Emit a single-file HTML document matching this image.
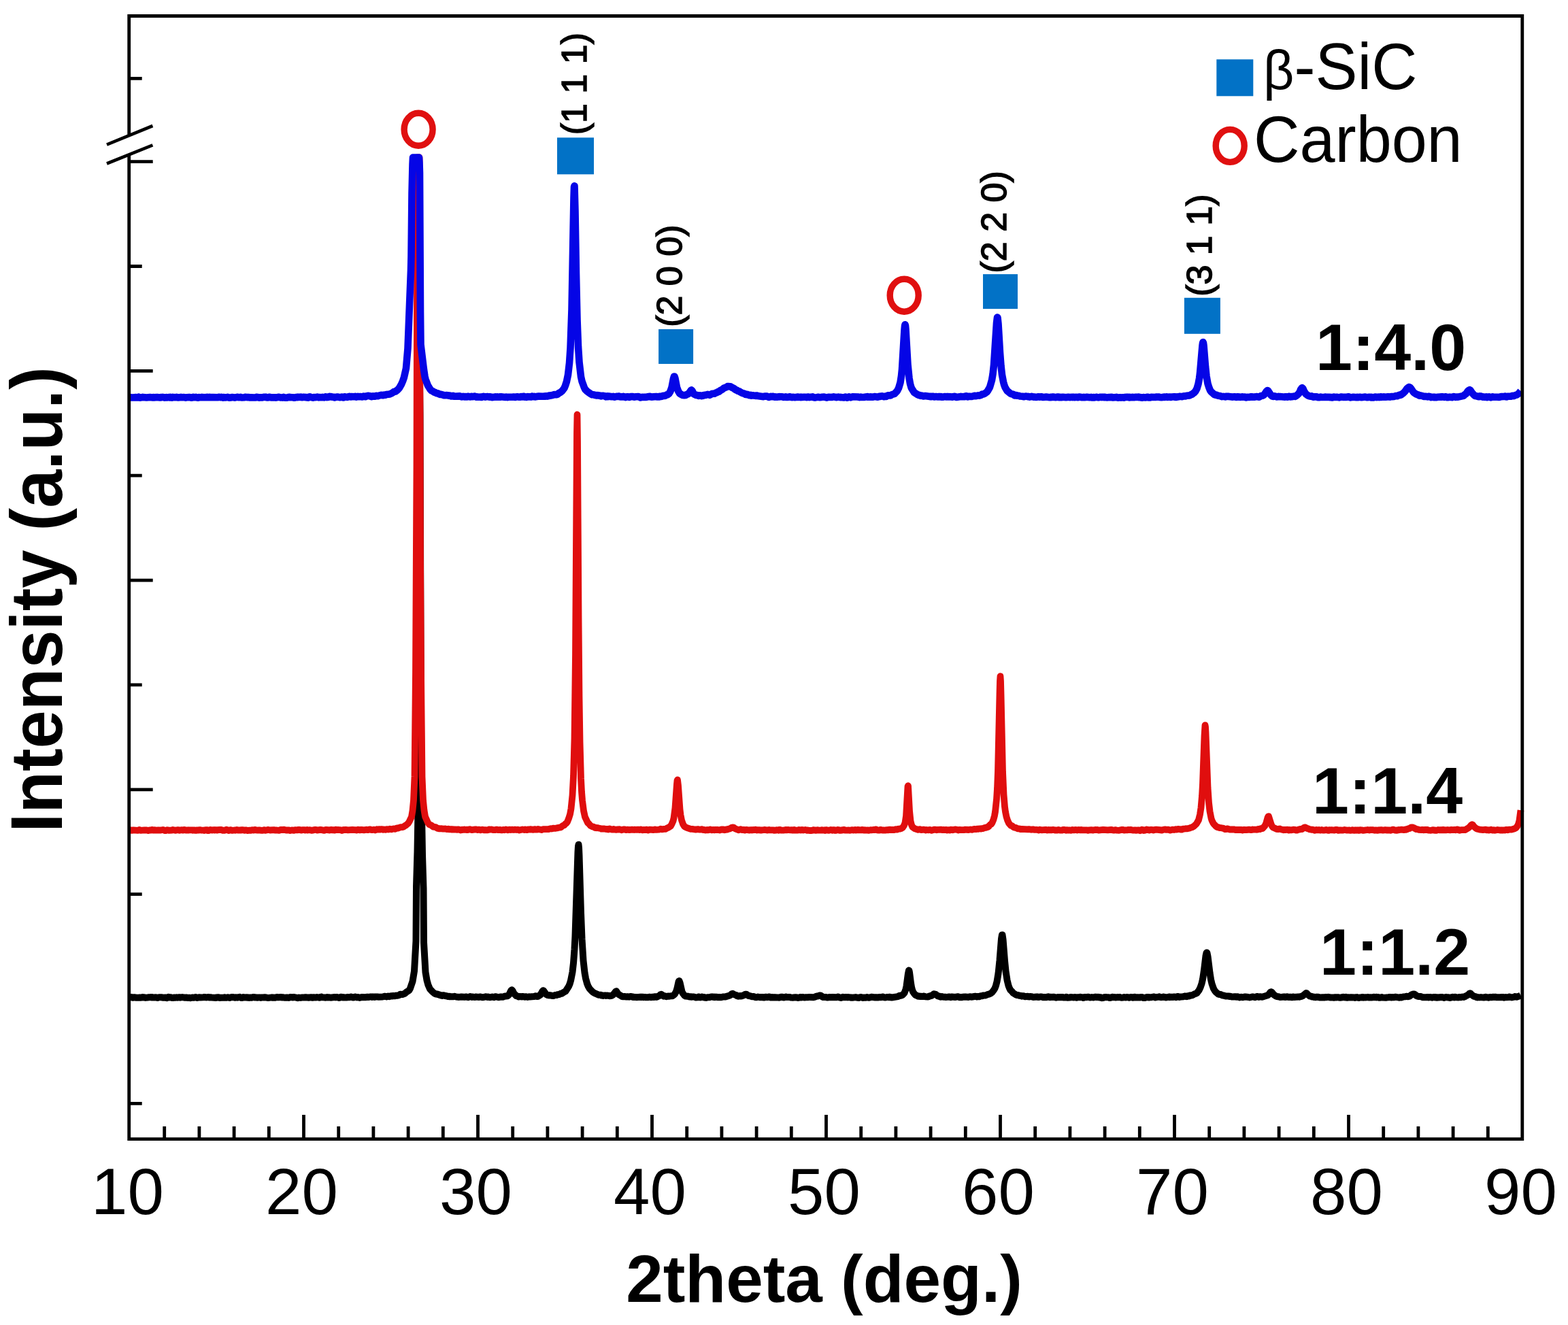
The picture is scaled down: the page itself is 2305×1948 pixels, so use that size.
<!DOCTYPE html><html><head><meta charset="utf-8"><title>XRD</title><style>html,body{margin:0;padding:0;background:#fff;overflow:hidden}svg{display:block}</style></head><body><svg width="2305" height="1948" viewBox="0 0 2305 1948"><rect x="0" y="0" width="2305" height="1948" fill="#fff"/><g fill="none" stroke-linejoin="round" stroke-linecap="butt"><path d="M190.5,1466.5 L193.5,1466.0 L195.0,1466.7 L196.0,1466.8 L197.0,1466.2 L200.5,1466.8 L204.0,1466.8 L205.0,1466.4 L207.0,1466.7 L209.5,1466.0 L210.0,1466.4 L211.0,1466.2 L214.0,1466.9 L217.5,1466.5 L218.0,1466.2 L221.0,1466.3 L221.5,1466.0 L223.0,1466.4 L223.5,1466.1 L224.5,1466.4 L227.0,1466.4 L227.5,1466.6 L229.0,1466.3 L231.5,1467.0 L234.0,1466.2 L237.0,1466.2 L240.0,1466.7 L243.5,1466.5 L245.0,1467.2 L247.5,1465.9 L248.5,1466.5 L251.0,1466.2 L251.5,1466.6 L253.5,1467.0 L254.5,1467.1 L256.0,1466.5 L258.5,1466.7 L259.5,1466.3 L260.5,1466.7 L262.0,1466.6 L263.0,1466.2 L265.0,1466.7 L268.0,1466.1 L272.0,1466.8 L274.5,1466.4 L275.0,1466.8 L276.5,1467.1 L278.5,1466.7 L280.0,1467.2 L282.5,1466.5 L285.0,1466.8 L287.5,1466.1 L290.0,1466.9 L292.5,1466.2 L295.0,1466.6 L299.0,1466.3 L300.5,1465.9 L303.0,1466.5 L304.0,1466.2 L307.0,1466.1 L308.0,1466.5 L310.0,1466.3 L311.0,1466.6 L317.5,1466.9 L318.0,1466.5 L318.5,1466.7 L321.0,1466.3 L323.0,1467.0 L325.0,1466.7 L330.0,1466.8 L330.5,1466.3 L333.0,1466.8 L335.0,1466.2 L337.5,1466.9 L340.5,1465.9 L341.0,1466.2 L342.0,1465.9 L343.5,1466.1 L345.0,1466.8 L347.0,1466.3 L349.0,1466.7 L352.5,1465.8 L354.5,1466.9 L356.0,1467.0 L356.5,1466.6 L357.5,1466.6 L358.0,1466.1 L361.0,1466.5 L362.0,1466.3 L363.0,1466.7 L363.5,1466.5 L364.5,1466.7 L365.0,1466.5 L366.5,1466.9 L369.0,1466.4 L370.0,1466.7 L372.0,1466.1 L373.5,1466.1 L374.5,1466.4 L375.5,1466.2 L376.5,1466.5 L377.5,1466.4 L378.0,1466.8 L381.0,1466.4 L383.5,1466.9 L384.0,1466.5 L385.5,1466.4 L386.5,1466.6 L389.5,1466.3 L391.5,1466.4 L392.5,1466.9 L394.0,1467.1 L399.5,1466.4 L400.0,1466.7 L401.0,1466.5 L404.5,1466.8 L407.0,1466.0 L409.0,1466.4 L412.5,1466.0 L415.0,1466.5 L416.5,1466.3 L419.0,1466.8 L422.0,1466.5 L424.5,1466.9 L426.5,1466.0 L429.5,1466.2 L430.0,1466.5 L432.5,1466.0 L437.5,1467.2 L439.5,1466.6 L442.0,1466.9 L444.5,1466.4 L448.0,1466.6 L448.5,1466.3 L449.5,1466.2 L454.0,1466.7 L455.0,1466.4 L457.0,1466.2 L459.5,1466.8 L460.5,1466.3 L464.0,1466.6 L466.0,1466.1 L470.0,1466.7 L471.0,1466.0 L472.5,1465.6 L473.5,1466.3 L477.5,1466.4 L478.5,1466.7 L481.0,1466.1 L482.0,1466.5 L484.0,1466.3 L486.0,1466.7 L492.0,1466.1 L493.5,1466.4 L495.5,1466.0 L498.5,1467.0 L500.0,1466.6 L501.0,1465.8 L503.0,1466.0 L503.5,1466.4 L506.0,1466.3 L507.0,1466.6 L510.0,1466.4 L510.5,1466.1 L513.5,1466.3 L516.0,1465.6 L519.5,1466.6 L522.0,1465.5 L524.5,1466.4 L526.0,1466.0 L528.5,1466.9 L532.5,1465.9 L537.0,1466.2 L540.0,1465.7 L541.5,1466.1 L544.0,1465.5 L546.5,1465.5 L547.0,1465.9 L548.0,1465.4 L550.5,1466.0 L551.0,1465.6 L554.5,1465.4 L556.5,1465.7 L562.5,1465.5 L566.0,1464.7 L568.5,1465.4 L570.5,1464.6 L572.0,1464.9 L572.5,1465.2 L575.0,1464.2 L577.0,1464.5 L578.0,1463.9 L580.5,1464.2 L582.5,1463.6 L583.5,1463.8 L586.5,1463.1 L588.5,1461.7 L590.0,1462.1 L591.5,1462.0 L595.0,1460.8 L597.5,1458.5 L601.5,1456.0 L603.0,1453.2 L606.5,1442.9 L609.0,1427.8 L611.5,1383.6 L612.0,1303.7 L613.5,1252.1 L614.5,1194.0 L615.0,1150.2 L616.0,932.6 L617.0,565.5 L617.5,611.6 L618.5,959.8 L619.5,1166.3 L621.0,1256.6 L622.5,1306.5 L623.0,1385.6 L625.5,1429.4 L627.5,1441.2 L629.5,1448.3 L632.0,1454.0 L636.0,1458.2 L639.0,1460.8 L641.0,1461.5 L642.0,1461.3 L643.5,1461.6 L644.5,1462.3 L646.5,1462.9 L647.0,1462.8 L648.5,1463.6 L650.0,1463.9 L651.0,1463.2 L652.0,1463.2 L654.5,1464.2 L655.5,1463.9 L658.5,1464.9 L659.0,1464.8 L660.5,1465.2 L661.0,1464.9 L661.5,1465.2 L662.0,1465.0 L667.0,1465.2 L668.0,1464.8 L670.5,1465.5 L675.0,1465.9 L678.5,1465.4 L679.0,1465.8 L680.5,1465.6 L682.5,1465.9 L685.5,1465.4 L686.0,1465.8 L687.5,1465.9 L688.0,1466.2 L691.0,1465.1 L694.0,1465.9 L695.0,1465.5 L697.0,1466.0 L698.0,1466.0 L699.0,1465.6 L704.0,1465.9 L705.5,1465.4 L709.5,1466.3 L714.0,1465.3 L716.5,1466.0 L717.5,1465.6 L720.0,1466.3 L723.5,1465.6 L726.0,1466.2 L728.0,1465.2 L732.5,1466.2 L736.5,1465.5 L739.0,1465.8 L741.5,1464.8 L746.0,1464.2 L748.0,1462.9 L751.0,1456.8 L751.5,1456.0 L752.5,1455.4 L753.5,1456.5 L755.5,1460.6 L759.0,1464.1 L760.0,1464.3 L762.5,1465.5 L764.0,1465.1 L767.5,1465.4 L768.0,1465.1 L769.0,1465.1 L771.5,1465.8 L773.0,1465.3 L774.5,1465.4 L775.5,1465.9 L778.0,1465.3 L779.0,1465.5 L785.0,1465.1 L787.0,1464.3 L789.5,1465.1 L791.0,1464.8 L794.5,1462.5 L797.5,1457.1 L798.5,1456.2 L799.0,1456.3 L803.0,1462.0 L805.0,1463.0 L807.0,1463.4 L808.0,1463.1 L810.0,1463.4 L810.5,1463.7 L813.5,1463.9 L816.0,1463.1 L818.5,1462.9 L819.5,1462.3 L822.0,1462.0 L825.0,1460.4 L826.0,1460.7 L828.5,1458.9 L831.5,1457.3 L836.0,1450.3 L837.5,1446.8 L839.0,1441.7 L841.5,1429.1 L843.0,1415.8 L844.5,1395.6 L845.5,1376.3 L849.5,1252.5 L850.0,1244.0 L850.5,1241.7 L851.0,1246.5 L851.5,1257.8 L854.0,1342.1 L855.5,1380.5 L857.5,1412.2 L859.5,1430.2 L861.0,1438.5 L863.0,1445.9 L864.5,1449.8 L866.5,1453.3 L870.5,1457.7 L873.0,1459.6 L880.5,1462.8 L882.5,1462.7 L884.0,1463.1 L884.5,1463.6 L886.5,1463.9 L888.0,1463.5 L889.5,1463.5 L890.5,1463.9 L891.0,1463.6 L892.0,1463.8 L893.0,1463.5 L896.0,1464.2 L899.5,1463.7 L901.5,1462.3 L905.0,1457.8 L906.0,1457.2 L909.0,1461.8 L911.0,1463.0 L911.5,1463.0 L914.5,1465.1 L915.5,1465.2 L918.0,1465.0 L921.0,1465.6 L922.5,1465.2 L925.0,1465.7 L926.5,1465.1 L927.5,1465.0 L930.0,1465.9 L930.5,1465.6 L932.0,1466.1 L935.0,1465.9 L935.5,1466.2 L941.5,1465.7 L942.5,1466.1 L943.0,1465.7 L945.0,1465.7 L945.5,1466.2 L948.0,1465.9 L949.5,1466.3 L953.0,1466.2 L954.5,1465.8 L957.5,1466.3 L958.5,1465.7 L961.0,1466.0 L962.5,1465.2 L963.5,1465.3 L965.0,1465.9 L966.0,1465.7 L967.5,1464.7 L968.0,1464.6 L969.5,1463.8 L970.5,1462.5 L972.0,1461.9 L973.5,1462.8 L975.5,1464.7 L977.5,1464.3 L979.5,1465.2 L982.0,1464.5 L984.0,1464.7 L986.0,1464.3 L988.5,1464.3 L991.0,1462.5 L992.0,1461.4 L994.0,1457.7 L995.5,1452.8 L997.5,1443.5 L998.0,1442.3 L998.5,1442.1 L999.5,1444.7 L1002.5,1457.9 L1003.5,1460.0 L1006.0,1463.4 L1008.0,1464.6 L1009.0,1464.5 L1009.5,1464.8 L1011.0,1464.6 L1013.0,1465.4 L1015.5,1465.3 L1016.5,1465.8 L1019.0,1465.4 L1020.5,1465.6 L1023.0,1466.5 L1026.0,1466.3 L1027.0,1465.5 L1028.5,1465.8 L1029.5,1466.4 L1031.5,1466.0 L1032.0,1465.6 L1032.5,1465.9 L1033.0,1465.7 L1034.0,1466.0 L1034.5,1466.4 L1036.0,1466.3 L1036.5,1466.7 L1038.0,1466.9 L1041.0,1466.2 L1043.0,1466.3 L1045.5,1465.5 L1048.0,1465.6 L1048.5,1465.9 L1050.0,1465.7 L1050.5,1466.1 L1051.0,1465.7 L1053.0,1465.8 L1055.5,1466.2 L1058.0,1465.9 L1058.5,1466.3 L1060.5,1466.3 L1062.0,1465.6 L1063.5,1465.4 L1066.5,1465.4 L1073.0,1463.5 L1075.5,1461.4 L1077.0,1460.7 L1080.0,1462.5 L1082.5,1463.1 L1083.5,1464.1 L1085.0,1464.7 L1086.5,1464.3 L1087.0,1464.4 L1088.0,1464.0 L1089.0,1464.5 L1090.5,1464.3 L1091.0,1463.9 L1093.0,1463.4 L1095.0,1462.0 L1096.0,1461.7 L1097.5,1462.0 L1100.5,1464.0 L1102.5,1464.2 L1105.0,1465.2 L1108.0,1465.1 L1110.5,1466.3 L1112.0,1466.3 L1114.0,1465.6 L1117.5,1466.2 L1119.5,1465.9 L1120.5,1466.2 L1121.5,1466.0 L1122.5,1466.5 L1123.5,1466.5 L1125.5,1465.7 L1127.5,1466.2 L1129.0,1465.8 L1130.5,1465.9 L1131.0,1465.6 L1132.0,1465.9 L1132.5,1466.4 L1134.5,1466.5 L1135.5,1466.0 L1136.0,1466.3 L1137.5,1466.3 L1138.0,1466.6 L1139.5,1466.2 L1142.0,1466.5 L1144.5,1466.4 L1145.5,1466.7 L1147.0,1466.4 L1148.0,1465.7 L1150.0,1465.8 L1150.5,1466.2 L1152.5,1466.5 L1155.5,1465.6 L1156.5,1466.1 L1161.0,1466.0 L1162.5,1466.5 L1166.0,1466.8 L1166.5,1466.5 L1169.5,1466.2 L1172.0,1466.4 L1172.5,1466.9 L1173.5,1466.7 L1174.0,1466.9 L1176.0,1466.1 L1177.0,1466.4 L1177.5,1466.1 L1178.5,1466.4 L1180.5,1466.0 L1183.0,1466.6 L1184.0,1466.2 L1187.5,1466.3 L1190.0,1465.9 L1195.5,1466.3 L1198.0,1465.7 L1200.5,1464.6 L1202.0,1464.6 L1204.5,1463.6 L1206.0,1463.5 L1207.5,1464.1 L1209.0,1465.5 L1210.0,1466.0 L1214.5,1466.1 L1216.5,1466.6 L1219.0,1466.0 L1221.0,1466.3 L1223.5,1466.1 L1229.5,1466.3 L1232.0,1465.5 L1234.0,1466.5 L1236.0,1467.0 L1239.0,1465.8 L1241.5,1466.3 L1244.0,1466.0 L1245.0,1466.3 L1246.0,1466.1 L1246.5,1466.4 L1248.0,1466.2 L1250.5,1466.7 L1252.0,1466.5 L1253.0,1466.8 L1258.0,1466.1 L1259.0,1466.5 L1260.0,1466.4 L1260.5,1466.7 L1262.5,1466.9 L1266.0,1465.9 L1268.0,1466.9 L1269.0,1466.9 L1270.0,1466.5 L1272.5,1466.7 L1274.5,1466.1 L1277.0,1466.8 L1281.0,1465.8 L1286.5,1466.5 L1288.0,1466.2 L1290.5,1466.5 L1293.5,1465.9 L1294.0,1466.3 L1295.5,1466.3 L1296.5,1465.7 L1298.0,1465.6 L1299.0,1466.2 L1300.0,1466.2 L1301.0,1466.6 L1304.5,1465.9 L1307.0,1466.2 L1307.5,1465.7 L1308.5,1465.7 L1310.0,1466.4 L1311.0,1466.5 L1320.0,1465.1 L1322.5,1463.7 L1323.5,1463.9 L1325.0,1463.6 L1327.0,1462.5 L1329.5,1459.9 L1331.5,1454.4 L1332.5,1449.7 L1335.0,1431.2 L1336.0,1426.6 L1336.5,1427.1 L1337.0,1429.7 L1339.0,1445.4 L1340.0,1451.3 L1341.0,1455.2 L1342.0,1458.0 L1344.0,1461.0 L1344.5,1461.3 L1345.5,1462.8 L1347.0,1463.5 L1347.5,1463.4 L1348.5,1464.2 L1350.0,1464.7 L1351.0,1464.5 L1352.0,1464.9 L1354.5,1464.7 L1355.0,1465.0 L1356.5,1465.0 L1357.5,1464.6 L1359.0,1464.7 L1360.0,1465.3 L1364.0,1465.4 L1365.0,1465.3 L1366.0,1464.5 L1366.5,1464.6 L1367.5,1464.1 L1368.5,1464.2 L1369.0,1463.7 L1369.5,1463.7 L1370.5,1463.2 L1373.0,1461.2 L1376.0,1462.1 L1378.5,1464.4 L1380.5,1464.4 L1382.0,1465.5 L1383.0,1465.8 L1384.5,1465.1 L1387.0,1465.8 L1389.0,1465.7 L1390.5,1466.1 L1395.5,1465.4 L1396.0,1465.9 L1398.0,1466.2 L1398.5,1465.5 L1399.0,1465.5 L1404.0,1466.0 L1408.5,1465.2 L1410.0,1466.2 L1411.5,1466.3 L1412.0,1465.9 L1414.5,1466.2 L1415.0,1465.8 L1416.5,1465.8 L1417.0,1465.5 L1418.0,1465.8 L1419.0,1465.5 L1423.5,1465.9 L1426.0,1465.2 L1428.0,1465.8 L1434.0,1464.8 L1436.0,1465.4 L1437.0,1465.1 L1439.5,1465.3 L1441.5,1464.3 L1444.0,1464.2 L1445.0,1463.5 L1447.5,1463.6 L1449.5,1463.1 L1451.5,1462.1 L1454.0,1461.6 L1456.5,1460.4 L1458.5,1458.8 L1461.0,1455.5 L1462.5,1452.9 L1464.0,1448.9 L1465.5,1443.3 L1467.5,1431.4 L1469.5,1411.9 L1472.0,1380.4 L1473.0,1374.4 L1473.5,1374.5 L1474.5,1381.2 L1477.0,1412.7 L1478.5,1427.7 L1480.5,1440.8 L1482.5,1449.2 L1484.0,1453.0 L1485.5,1455.7 L1487.5,1457.6 L1489.0,1459.6 L1490.0,1460.2 L1494.0,1462.7 L1495.5,1463.1 L1496.5,1463.0 L1498.5,1463.7 L1499.5,1463.7 L1500.0,1464.1 L1501.0,1464.1 L1502.0,1464.6 L1502.5,1464.2 L1504.5,1464.3 L1507.0,1465.2 L1507.5,1465.0 L1508.0,1465.2 L1509.5,1464.9 L1510.0,1465.1 L1510.5,1464.7 L1513.0,1465.5 L1514.5,1465.1 L1516.0,1465.2 L1519.0,1466.0 L1524.0,1465.5 L1525.5,1465.6 L1526.5,1466.1 L1529.0,1465.5 L1531.0,1465.4 L1533.5,1466.3 L1534.5,1465.9 L1535.0,1466.1 L1536.0,1465.9 L1536.5,1466.3 L1538.5,1466.2 L1539.5,1465.6 L1541.0,1465.3 L1542.0,1465.9 L1543.0,1465.7 L1544.0,1466.2 L1544.5,1465.8 L1545.0,1466.1 L1546.5,1465.8 L1548.0,1466.1 L1548.5,1465.7 L1552.5,1466.7 L1555.0,1466.1 L1557.5,1466.2 L1558.0,1465.9 L1560.5,1466.2 L1561.5,1465.9 L1563.5,1466.5 L1565.0,1466.6 L1567.0,1466.2 L1567.5,1465.8 L1568.5,1466.1 L1569.0,1466.8 L1572.5,1466.5 L1574.0,1465.9 L1578.5,1466.5 L1580.0,1466.1 L1582.5,1466.8 L1583.5,1466.3 L1586.5,1466.2 L1588.0,1465.8 L1588.5,1466.2 L1589.0,1466.0 L1591.0,1466.2 L1592.5,1466.9 L1593.0,1466.4 L1595.0,1465.9 L1596.5,1466.3 L1600.0,1465.7 L1602.5,1466.6 L1605.0,1466.1 L1607.5,1466.5 L1610.5,1465.7 L1612.5,1466.2 L1614.0,1465.8 L1616.0,1466.4 L1616.5,1466.1 L1618.0,1466.3 L1619.5,1467.2 L1621.5,1467.1 L1623.0,1466.3 L1625.5,1466.0 L1627.0,1466.3 L1629.5,1466.2 L1630.5,1466.9 L1632.0,1467.0 L1635.5,1465.8 L1637.0,1466.3 L1638.5,1466.1 L1640.0,1466.6 L1641.5,1466.4 L1642.5,1465.9 L1643.5,1466.3 L1646.5,1466.1 L1647.5,1466.6 L1648.5,1466.7 L1651.5,1466.5 L1652.5,1466.0 L1655.0,1466.6 L1656.5,1466.1 L1658.5,1466.2 L1660.0,1466.8 L1663.0,1465.9 L1665.5,1466.8 L1666.5,1465.9 L1667.5,1466.1 L1668.0,1465.8 L1669.0,1466.5 L1670.0,1466.3 L1670.5,1466.6 L1672.5,1466.2 L1676.0,1466.4 L1677.0,1466.1 L1677.5,1466.3 L1678.5,1466.0 L1681.0,1467.0 L1683.0,1466.9 L1686.0,1465.9 L1688.0,1466.0 L1689.0,1466.6 L1690.0,1466.3 L1692.5,1466.3 L1694.5,1465.7 L1696.0,1465.9 L1696.5,1465.6 L1697.5,1466.4 L1699.0,1466.4 L1700.0,1465.9 L1703.0,1465.7 L1704.0,1465.3 L1705.0,1465.9 L1706.0,1465.9 L1706.5,1466.2 L1709.0,1466.1 L1710.5,1465.6 L1714.5,1466.5 L1718.5,1465.5 L1719.5,1466.1 L1720.0,1465.8 L1720.5,1466.0 L1722.0,1465.7 L1724.0,1466.0 L1726.5,1465.5 L1729.0,1466.3 L1731.0,1465.0 L1732.0,1465.0 L1734.0,1466.0 L1736.5,1465.4 L1740.0,1465.2 L1740.5,1464.8 L1741.5,1464.6 L1742.5,1464.5 L1743.5,1465.0 L1744.5,1465.2 L1746.0,1464.3 L1747.5,1464.2 L1748.0,1464.5 L1749.0,1463.6 L1749.5,1463.8 L1751.0,1463.3 L1751.5,1463.5 L1753.5,1462.9 L1755.5,1461.6 L1758.0,1460.8 L1759.5,1459.9 L1762.5,1456.0 L1764.5,1451.9 L1766.5,1446.2 L1768.0,1439.7 L1770.0,1426.3 L1772.5,1405.4 L1773.5,1400.8 L1774.0,1400.4 L1774.5,1401.2 L1775.5,1406.2 L1778.5,1430.4 L1780.0,1439.9 L1781.5,1446.4 L1784.0,1453.5 L1785.5,1456.1 L1787.5,1458.7 L1791.0,1461.5 L1792.0,1461.9 L1794.5,1462.0 L1797.0,1463.5 L1798.0,1463.4 L1802.5,1464.6 L1805.0,1464.4 L1807.0,1464.9 L1808.5,1464.7 L1811.0,1465.6 L1813.5,1465.6 L1815.5,1465.2 L1818.0,1465.8 L1819.0,1465.2 L1822.0,1466.4 L1824.5,1465.7 L1826.5,1466.3 L1829.5,1465.5 L1830.5,1465.5 L1835.0,1466.0 L1837.0,1466.5 L1841.5,1465.4 L1843.0,1465.6 L1844.5,1466.3 L1847.5,1465.0 L1848.5,1465.0 L1849.5,1465.7 L1850.5,1465.9 L1852.0,1465.2 L1855.5,1465.7 L1863.5,1463.3 L1865.0,1462.1 L1867.5,1458.8 L1868.5,1458.2 L1869.0,1458.3 L1870.0,1459.2 L1872.5,1462.3 L1875.5,1464.4 L1877.5,1465.3 L1880.0,1465.3 L1882.0,1466.1 L1887.5,1465.5 L1888.5,1465.6 L1889.0,1466.0 L1891.0,1465.8 L1892.0,1465.3 L1895.0,1466.1 L1896.0,1465.7 L1897.5,1465.7 L1899.0,1466.3 L1900.0,1466.3 L1901.0,1465.5 L1902.0,1465.9 L1902.5,1465.7 L1903.5,1466.0 L1904.5,1465.7 L1906.5,1465.8 L1909.0,1465.4 L1910.0,1465.7 L1913.0,1464.9 L1915.5,1463.8 L1920.0,1460.0 L1921.0,1460.4 L1922.5,1462.2 L1925.5,1464.6 L1927.5,1464.7 L1928.5,1465.6 L1931.0,1465.5 L1932.0,1466.1 L1933.0,1465.9 L1933.5,1466.3 L1934.5,1465.8 L1935.5,1466.1 L1936.0,1465.8 L1938.0,1465.7 L1939.5,1466.4 L1940.5,1466.6 L1945.0,1466.3 L1947.0,1466.5 L1948.5,1466.0 L1950.5,1466.2 L1952.5,1465.8 L1956.0,1466.5 L1960.0,1466.4 L1960.5,1466.8 L1963.0,1466.2 L1964.5,1466.5 L1965.5,1466.2 L1967.5,1466.2 L1968.0,1466.6 L1970.0,1466.8 L1972.0,1466.3 L1973.0,1466.5 L1974.5,1465.8 L1977.0,1466.4 L1978.5,1465.9 L1979.0,1466.4 L1980.5,1466.8 L1981.5,1466.3 L1983.5,1466.5 L1986.0,1466.2 L1991.5,1466.6 L1992.0,1466.9 L1993.5,1466.3 L1995.0,1466.1 L1997.5,1467.0 L1999.0,1466.5 L2001.0,1466.5 L2002.5,1466.0 L2004.0,1466.6 L2004.5,1466.3 L2005.0,1466.5 L2006.0,1466.3 L2007.0,1466.6 L2011.0,1466.0 L2013.0,1466.6 L2015.5,1466.3 L2016.0,1466.6 L2019.5,1465.8 L2020.0,1466.2 L2022.0,1466.3 L2023.0,1465.9 L2023.5,1466.3 L2024.0,1465.9 L2025.5,1466.2 L2026.0,1466.0 L2027.5,1466.8 L2029.0,1466.7 L2030.0,1466.3 L2031.0,1466.5 L2031.5,1466.1 L2032.5,1466.6 L2037.0,1466.8 L2038.5,1466.4 L2041.5,1466.2 L2042.0,1465.9 L2044.0,1466.0 L2044.5,1466.4 L2046.0,1466.4 L2047.0,1466.1 L2049.0,1466.4 L2051.0,1465.7 L2056.5,1466.7 L2059.0,1465.9 L2060.0,1466.4 L2063.0,1465.4 L2065.5,1465.3 L2067.5,1464.8 L2070.0,1465.2 L2072.0,1464.7 L2075.5,1462.1 L2077.5,1461.4 L2079.0,1461.4 L2080.5,1462.4 L2082.0,1463.9 L2083.0,1464.4 L2085.0,1464.9 L2088.5,1465.1 L2090.5,1465.7 L2091.0,1466.2 L2096.5,1466.3 L2099.0,1465.9 L2100.5,1466.4 L2103.0,1466.0 L2105.5,1466.7 L2107.5,1465.9 L2109.5,1466.4 L2110.0,1466.1 L2111.0,1466.2 L2112.5,1466.7 L2114.0,1466.3 L2115.5,1466.6 L2116.0,1466.2 L2118.0,1466.1 L2118.5,1466.3 L2120.0,1466.0 L2122.5,1466.9 L2125.5,1465.9 L2128.0,1466.5 L2129.5,1466.3 L2131.5,1467.1 L2134.0,1466.1 L2135.5,1465.8 L2136.5,1466.3 L2137.0,1466.1 L2138.0,1466.4 L2139.0,1465.7 L2141.0,1466.3 L2144.0,1466.5 L2145.0,1465.9 L2147.5,1466.3 L2149.5,1465.6 L2151.5,1465.9 L2153.5,1465.3 L2154.0,1464.7 L2157.0,1463.3 L2159.0,1462.0 L2160.0,1460.7 L2161.0,1460.3 L2161.5,1460.4 L2163.0,1462.1 L2166.5,1464.7 L2169.0,1465.1 L2170.5,1466.2 L2171.5,1466.4 L2172.5,1466.1 L2174.5,1466.4 L2177.0,1466.1 L2181.0,1466.6 L2184.0,1465.8 L2188.0,1466.7 L2190.5,1465.9 L2192.5,1466.3 L2194.5,1465.8 L2196.5,1466.0 L2198.5,1465.7 L2200.0,1466.2 L2205.0,1466.3 L2208.0,1466.0 L2209.5,1466.3 L2210.0,1466.0 L2211.0,1466.7 L2213.5,1466.1 L2214.5,1466.3 L2218.5,1466.1 L2219.0,1465.6 L2222.5,1466.5 L2226.0,1465.7 L2227.0,1465.0 L2229.5,1465.7 L2234.0,1464.2 L2235.5,1463.4" stroke="#000" stroke-width="10"/><path d="M190.5,1220.4 L191.0,1220.1 L193.5,1220.9 L196.0,1220.4 L202.5,1220.8 L205.0,1220.0 L206.5,1220.8 L212.5,1220.3 L214.0,1220.6 L215.5,1220.4 L216.0,1220.7 L217.0,1220.6 L218.0,1221.1 L220.0,1220.5 L221.5,1220.6 L223.0,1220.0 L224.0,1220.0 L225.5,1220.7 L227.5,1220.2 L229.5,1220.7 L233.0,1220.3 L235.5,1220.6 L239.5,1220.0 L241.5,1220.5 L242.0,1221.0 L243.5,1221.1 L245.0,1220.5 L245.5,1220.6 L246.0,1220.2 L246.5,1220.4 L247.5,1220.3 L248.5,1220.8 L253.0,1220.5 L254.0,1220.0 L257.5,1220.8 L261.5,1220.2 L263.5,1220.4 L264.0,1220.8 L266.5,1220.2 L269.0,1220.6 L271.0,1219.9 L273.5,1220.7 L276.0,1220.4 L277.0,1220.6 L278.5,1220.3 L281.5,1220.3 L283.5,1220.8 L286.0,1220.3 L287.0,1220.8 L288.0,1220.6 L288.5,1220.9 L290.0,1220.3 L292.0,1220.6 L293.0,1220.1 L294.5,1220.2 L296.0,1220.7 L299.0,1220.6 L300.0,1221.0 L301.0,1220.4 L301.5,1220.6 L303.0,1220.1 L303.5,1220.5 L304.5,1220.2 L305.5,1221.1 L307.0,1221.2 L307.5,1220.6 L309.5,1219.8 L312.0,1220.6 L314.0,1220.1 L315.5,1220.5 L317.0,1220.1 L319.5,1220.6 L320.0,1220.2 L324.0,1219.8 L325.0,1219.9 L327.5,1220.8 L329.5,1220.6 L330.5,1220.8 L331.0,1220.3 L332.0,1220.2 L333.0,1219.7 L336.0,1221.0 L337.0,1220.9 L338.5,1220.1 L341.5,1220.9 L344.5,1220.5 L346.0,1220.8 L348.0,1220.0 L350.5,1220.7 L351.5,1220.3 L354.5,1220.6 L355.0,1220.2 L356.5,1220.2 L360.0,1220.8 L362.0,1220.3 L364.0,1221.0 L365.5,1220.9 L366.0,1220.6 L368.5,1220.9 L370.0,1220.3 L371.0,1220.2 L373.0,1220.6 L374.5,1219.9 L378.5,1220.7 L381.0,1220.3 L384.5,1220.9 L386.5,1220.8 L388.0,1220.1 L389.5,1220.3 L390.5,1220.8 L394.5,1219.9 L397.0,1220.5 L402.5,1220.1 L403.5,1220.1 L404.0,1220.7 L407.0,1220.5 L410.0,1220.9 L411.0,1220.7 L412.5,1219.9 L413.5,1219.8 L416.0,1220.2 L417.5,1219.7 L420.5,1220.5 L424.0,1220.3 L426.5,1221.0 L429.0,1220.4 L432.0,1220.8 L434.0,1220.1 L438.0,1220.3 L438.5,1220.0 L440.5,1219.8 L441.5,1220.4 L443.5,1220.6 L445.5,1220.1 L447.5,1220.1 L448.0,1220.5 L449.0,1220.5 L451.5,1220.0 L452.5,1220.5 L455.5,1220.1 L458.0,1220.9 L461.0,1220.4 L462.5,1219.9 L464.5,1219.9 L466.0,1220.6 L471.0,1219.8 L476.5,1220.9 L479.0,1219.9 L485.0,1220.5 L486.5,1219.9 L487.0,1220.1 L487.5,1219.9 L488.5,1220.4 L489.5,1220.1 L491.0,1220.2 L491.5,1220.7 L493.5,1220.3 L494.0,1219.8 L495.0,1220.2 L496.0,1220.0 L496.5,1220.2 L497.5,1219.9 L498.5,1220.2 L500.0,1220.1 L502.5,1221.0 L504.5,1220.1 L505.0,1220.0 L505.5,1220.3 L508.0,1219.8 L511.5,1220.4 L518.0,1219.9 L521.0,1220.2 L522.0,1220.1 L524.0,1220.5 L526.5,1219.7 L527.5,1220.1 L528.0,1219.9 L529.0,1220.4 L530.0,1220.0 L531.5,1219.9 L535.0,1220.4 L538.5,1219.7 L540.5,1220.2 L542.0,1219.9 L543.0,1219.3 L544.5,1219.4 L545.0,1219.9 L547.0,1220.2 L549.5,1219.7 L551.0,1220.1 L551.5,1220.5 L553.5,1219.7 L554.0,1219.2 L554.5,1219.5 L556.5,1219.5 L557.0,1219.2 L559.5,1219.6 L560.0,1219.1 L561.5,1219.1 L563.5,1219.8 L565.0,1219.5 L567.0,1219.8 L568.5,1219.1 L571.0,1219.5 L573.0,1218.6 L575.5,1219.3 L578.5,1218.4 L581.0,1218.8 L583.5,1217.4 L585.0,1217.6 L589.0,1216.2 L592.0,1216.0 L593.0,1215.6 L596.0,1213.6 L596.5,1213.5 L600.0,1210.6 L602.0,1207.2 L605.0,1200.9 L606.5,1191.7 L608.0,1176.5 L609.5,1141.9 L611.0,988.6 L612.5,686.3 L613.5,231.5 L616.5,231.5 L618.0,820.1 L619.0,988.9 L620.5,1141.8 L622.0,1176.6 L623.5,1191.4 L625.0,1200.4 L629.0,1209.4 L631.0,1212.1 L634.0,1213.3 L637.0,1215.7 L640.5,1216.1 L642.5,1217.5 L643.5,1217.9 L645.0,1217.9 L645.5,1218.3 L647.0,1218.4 L648.0,1218.1 L651.5,1218.7 L655.0,1218.5 L657.0,1219.2 L659.0,1218.7 L660.0,1219.3 L662.0,1219.1 L663.5,1219.5 L665.0,1219.2 L665.5,1219.6 L668.5,1219.4 L671.0,1219.6 L671.5,1219.9 L674.0,1219.4 L677.0,1220.5 L677.5,1220.2 L679.0,1220.2 L679.5,1219.8 L680.0,1220.0 L682.5,1219.4 L684.5,1219.9 L685.5,1219.7 L686.0,1220.1 L688.0,1220.0 L688.5,1219.6 L690.5,1219.2 L693.5,1220.2 L699.0,1219.3 L702.0,1220.1 L703.5,1219.6 L705.5,1219.8 L706.5,1220.3 L709.0,1219.6 L711.5,1220.3 L713.5,1220.1 L716.5,1220.3 L718.5,1220.0 L719.0,1219.5 L721.5,1219.7 L722.5,1219.4 L725.5,1220.2 L727.5,1220.2 L730.0,1219.6 L732.5,1220.2 L735.5,1219.9 L737.5,1220.4 L739.5,1219.9 L741.5,1220.3 L743.5,1219.5 L746.5,1220.3 L747.0,1220.3 L747.5,1219.8 L749.5,1219.6 L750.0,1220.0 L752.0,1219.9 L752.5,1219.6 L755.0,1220.0 L757.0,1219.6 L759.5,1220.0 L761.0,1219.7 L763.5,1220.5 L768.0,1219.5 L770.5,1220.0 L772.0,1219.5 L774.5,1220.2 L776.0,1219.5 L778.5,1219.7 L779.5,1219.1 L784.0,1219.8 L784.5,1219.5 L786.5,1219.2 L787.0,1219.6 L790.0,1219.5 L791.0,1219.0 L796.0,1220.0 L798.5,1219.2 L806.5,1219.0 L809.5,1218.1 L810.5,1218.5 L811.5,1218.1 L812.0,1218.3 L813.0,1217.7 L816.5,1217.9 L819.0,1217.2 L820.0,1217.3 L820.5,1216.8 L824.5,1216.3 L827.0,1214.1 L829.5,1213.2 L831.0,1211.4 L833.0,1209.8 L834.0,1208.3 L836.0,1203.4 L838.0,1197.1 L839.5,1188.8 L841.5,1169.2 L843.0,1141.1 L844.5,1085.7 L846.0,961.8 L848.0,636.0 L848.5,609.5 L849.0,648.5 L850.5,907.9 L851.5,1023.9 L852.5,1090.8 L854.0,1144.2 L855.0,1164.0 L856.0,1176.5 L858.0,1192.1 L860.0,1201.2 L864.0,1209.7 L865.5,1210.9 L868.0,1213.9 L871.0,1215.4 L872.0,1215.4 L873.5,1216.0 L874.5,1216.9 L876.5,1217.3 L877.5,1216.9 L878.0,1217.2 L879.0,1217.1 L879.5,1217.5 L883.0,1218.0 L884.0,1218.5 L886.5,1218.3 L887.5,1218.6 L888.5,1218.4 L891.0,1219.0 L893.5,1218.9 L894.0,1219.4 L895.0,1218.7 L895.5,1218.6 L896.0,1218.9 L896.5,1218.5 L899.0,1219.5 L901.0,1219.5 L902.0,1219.0 L903.0,1219.5 L904.0,1219.3 L905.0,1219.9 L906.0,1219.9 L907.5,1219.4 L909.0,1219.7 L910.5,1219.2 L914.0,1220.3 L916.0,1219.5 L919.0,1219.5 L920.5,1220.1 L923.0,1219.7 L925.0,1220.1 L926.0,1219.8 L926.5,1220.0 L929.0,1219.6 L932.0,1220.0 L932.5,1219.7 L934.0,1219.9 L938.0,1219.6 L940.0,1220.1 L942.0,1219.5 L944.5,1220.3 L946.0,1219.8 L948.5,1220.1 L950.0,1219.6 L951.5,1220.0 L952.5,1220.6 L955.0,1219.7 L960.5,1220.2 L963.0,1219.4 L965.0,1219.9 L968.5,1219.7 L971.0,1218.7 L973.0,1219.3 L975.0,1219.2 L975.5,1218.8 L978.0,1218.9 L981.0,1217.2 L982.5,1216.8 L986.0,1214.4 L987.5,1211.7 L989.5,1207.0 L990.5,1202.8 L992.5,1187.7 L995.0,1152.4 L995.5,1147.5 L996.0,1146.5 L997.0,1155.0 L999.5,1190.0 L1000.5,1198.2 L1002.0,1205.9 L1004.0,1211.6 L1006.0,1214.8 L1007.0,1215.7 L1009.5,1216.9 L1015.5,1218.9 L1018.5,1218.8 L1019.0,1219.1 L1021.5,1219.3 L1022.5,1219.7 L1026.0,1219.1 L1028.5,1219.7 L1030.0,1219.7 L1031.5,1219.1 L1034.0,1220.1 L1034.5,1219.8 L1036.0,1220.0 L1037.0,1220.6 L1039.5,1220.0 L1040.5,1220.4 L1041.5,1220.2 L1044.0,1219.5 L1046.5,1220.3 L1048.0,1219.9 L1050.5,1220.3 L1052.5,1219.8 L1054.5,1220.2 L1055.5,1220.0 L1058.0,1220.5 L1059.5,1219.6 L1061.0,1219.5 L1062.0,1219.9 L1062.5,1219.5 L1064.5,1219.7 L1065.0,1220.3 L1067.0,1219.9 L1067.5,1219.5 L1069.0,1219.6 L1071.0,1218.6 L1072.5,1218.7 L1076.0,1216.5 L1077.5,1216.3 L1079.0,1216.9 L1081.5,1218.7 L1086.0,1220.3 L1088.5,1219.2 L1091.0,1220.1 L1091.5,1219.8 L1093.5,1220.0 L1094.0,1220.4 L1095.0,1220.5 L1097.0,1219.9 L1102.0,1220.6 L1104.0,1220.1 L1105.0,1220.5 L1105.5,1220.1 L1106.5,1220.3 L1107.5,1220.0 L1109.0,1220.2 L1110.5,1219.7 L1113.0,1220.5 L1115.5,1220.2 L1118.0,1220.6 L1118.5,1220.4 L1120.0,1220.5 L1124.5,1219.9 L1127.5,1220.6 L1130.5,1220.0 L1131.0,1220.3 L1136.5,1220.4 L1137.5,1220.8 L1141.0,1220.5 L1141.5,1220.2 L1142.5,1220.4 L1143.5,1220.2 L1144.5,1220.7 L1145.5,1220.0 L1147.0,1220.0 L1148.0,1220.6 L1149.0,1220.7 L1152.5,1220.6 L1155.0,1220.0 L1156.0,1220.3 L1159.0,1220.0 L1161.5,1220.3 L1164.0,1220.1 L1165.0,1220.6 L1165.5,1220.3 L1166.5,1220.5 L1167.5,1220.0 L1169.5,1220.6 L1172.5,1220.6 L1174.5,1220.0 L1177.0,1220.5 L1179.0,1220.0 L1181.0,1220.5 L1184.0,1220.0 L1186.5,1220.9 L1187.5,1220.5 L1190.0,1221.1 L1192.5,1220.8 L1193.0,1221.1 L1193.5,1220.8 L1194.5,1220.9 L1195.5,1220.3 L1196.0,1220.6 L1198.0,1220.3 L1199.5,1220.9 L1202.0,1220.2 L1204.0,1220.7 L1206.0,1220.7 L1208.0,1220.2 L1209.5,1220.7 L1212.5,1220.4 L1213.0,1220.8 L1213.5,1220.3 L1215.0,1220.5 L1215.5,1220.2 L1216.5,1220.6 L1218.5,1220.8 L1221.5,1220.0 L1222.5,1220.4 L1223.5,1220.3 L1224.0,1220.8 L1225.0,1220.2 L1226.5,1220.2 L1227.5,1221.0 L1229.0,1220.8 L1231.5,1220.0 L1232.5,1220.1 L1234.5,1220.9 L1236.0,1220.6 L1236.5,1220.8 L1237.0,1220.5 L1238.0,1220.6 L1241.0,1219.8 L1242.0,1220.5 L1243.0,1220.3 L1243.5,1220.6 L1246.0,1220.7 L1247.0,1220.3 L1248.0,1220.7 L1249.5,1220.8 L1252.0,1220.2 L1255.0,1220.5 L1257.0,1220.0 L1258.5,1220.5 L1261.5,1219.9 L1262.5,1220.4 L1263.5,1220.1 L1264.0,1220.4 L1265.5,1220.3 L1267.0,1219.8 L1268.5,1220.3 L1269.0,1220.1 L1269.5,1220.5 L1271.0,1220.2 L1271.5,1220.5 L1272.5,1220.3 L1273.0,1220.7 L1276.0,1220.5 L1276.5,1220.9 L1279.5,1220.2 L1281.0,1220.4 L1283.5,1220.0 L1285.5,1220.2 L1287.0,1219.4 L1288.0,1219.4 L1289.5,1220.3 L1291.5,1220.6 L1293.0,1220.5 L1294.0,1220.0 L1295.0,1219.9 L1296.5,1220.4 L1298.0,1220.6 L1298.5,1220.3 L1300.0,1220.6 L1302.0,1220.5 L1303.0,1220.1 L1306.0,1220.3 L1306.5,1219.9 L1308.5,1219.7 L1309.5,1220.0 L1312.5,1219.8 L1313.5,1220.2 L1315.0,1219.9 L1316.5,1219.2 L1318.5,1219.6 L1321.0,1218.6 L1322.5,1218.7 L1324.5,1218.1 L1327.0,1216.7 L1329.0,1213.6 L1330.5,1209.7 L1332.0,1199.8 L1334.5,1156.1 L1335.0,1155.2 L1337.0,1191.9 L1338.5,1206.9 L1340.0,1212.9 L1341.5,1216.0 L1345.0,1218.4 L1349.5,1219.8 L1352.0,1219.1 L1354.5,1220.1 L1357.5,1219.7 L1360.0,1220.1 L1360.5,1220.5 L1362.0,1220.0 L1365.0,1220.4 L1365.5,1220.1 L1367.0,1220.0 L1369.5,1220.8 L1374.0,1219.6 L1377.0,1220.3 L1379.5,1219.8 L1383.0,1219.6 L1385.5,1220.2 L1387.5,1219.9 L1388.5,1220.2 L1391.0,1220.0 L1392.5,1220.5 L1394.5,1220.1 L1396.0,1220.5 L1397.0,1220.4 L1398.0,1219.7 L1400.5,1220.3 L1404.0,1219.5 L1406.0,1219.6 L1409.0,1220.5 L1410.5,1219.9 L1413.0,1220.2 L1417.0,1220.1 L1418.0,1219.7 L1424.0,1220.0 L1426.5,1219.5 L1429.0,1219.8 L1432.0,1219.0 L1434.5,1219.2 L1437.0,1218.6 L1438.0,1218.9 L1439.5,1218.4 L1441.0,1218.3 L1442.0,1218.6 L1442.5,1218.2 L1445.0,1218.0 L1447.5,1216.9 L1449.5,1216.8 L1451.0,1215.9 L1451.5,1216.1 L1452.5,1215.8 L1453.5,1215.1 L1454.0,1214.2 L1456.0,1212.1 L1457.0,1211.7 L1458.5,1209.7 L1460.5,1204.8 L1462.0,1199.2 L1463.0,1193.7 L1465.0,1175.1 L1466.0,1159.1 L1467.0,1134.0 L1469.5,1020.4 L1470.0,1001.4 L1470.5,994.1 L1471.0,1001.5 L1471.5,1020.7 L1474.0,1134.5 L1475.5,1168.1 L1477.0,1186.2 L1478.0,1193.6 L1479.5,1200.9 L1481.0,1205.7 L1483.0,1210.3 L1486.0,1213.7 L1488.0,1214.2 L1489.0,1215.3 L1491.0,1216.6 L1491.5,1216.4 L1492.0,1216.9 L1493.5,1217.0 L1494.0,1217.5 L1494.5,1217.5 L1496.0,1218.4 L1498.5,1218.4 L1500.5,1219.2 L1502.0,1218.9 L1511.0,1219.4 L1512.5,1219.1 L1516.0,1219.8 L1518.5,1219.3 L1520.5,1219.9 L1524.5,1219.9 L1527.0,1220.6 L1528.5,1219.7 L1531.0,1220.3 L1537.0,1219.8 L1539.5,1220.5 L1541.5,1220.0 L1543.5,1220.4 L1545.0,1220.1 L1546.5,1220.3 L1548.5,1219.9 L1551.0,1220.6 L1552.0,1220.4 L1554.0,1220.6 L1556.0,1220.0 L1559.0,1220.7 L1561.0,1220.7 L1563.0,1219.8 L1564.0,1220.0 L1564.5,1219.8 L1567.0,1220.8 L1567.5,1220.5 L1568.0,1220.6 L1568.5,1220.1 L1570.0,1220.6 L1572.0,1220.4 L1574.0,1220.8 L1576.5,1220.0 L1579.0,1220.4 L1581.0,1220.0 L1583.5,1220.6 L1586.0,1220.0 L1588.0,1220.4 L1589.5,1220.0 L1591.5,1220.4 L1598.0,1220.3 L1599.5,1220.9 L1601.5,1220.3 L1604.0,1220.2 L1607.0,1220.6 L1610.0,1219.9 L1612.0,1220.2 L1613.0,1220.0 L1615.0,1220.6 L1621.5,1219.9 L1628.5,1220.4 L1633.5,1219.9 L1637.5,1220.7 L1640.0,1220.1 L1642.0,1220.7 L1645.0,1220.8 L1648.5,1219.9 L1649.5,1220.1 L1650.0,1219.8 L1652.5,1220.5 L1654.5,1220.3 L1657.0,1220.4 L1658.0,1220.0 L1661.0,1220.1 L1662.0,1219.9 L1666.0,1220.7 L1668.5,1220.4 L1669.5,1220.8 L1673.0,1220.3 L1674.5,1220.4 L1676.0,1221.2 L1676.5,1220.8 L1677.5,1220.8 L1678.5,1219.7 L1680.0,1220.1 L1681.5,1221.0 L1683.5,1220.6 L1684.0,1220.1 L1685.5,1219.5 L1686.5,1220.1 L1687.0,1219.8 L1689.5,1220.5 L1692.0,1219.8 L1693.5,1219.8 L1694.5,1220.4 L1696.0,1220.5 L1697.5,1219.9 L1699.5,1219.7 L1708.0,1220.5 L1711.0,1219.6 L1713.0,1219.5 L1714.0,1219.8 L1717.0,1219.7 L1719.0,1220.0 L1719.5,1220.5 L1721.0,1220.5 L1723.5,1219.6 L1726.0,1220.0 L1728.0,1219.2 L1729.0,1219.7 L1732.5,1218.9 L1733.0,1219.2 L1734.0,1219.1 L1736.5,1219.6 L1737.5,1219.5 L1739.0,1218.6 L1740.5,1218.7 L1743.0,1218.2 L1745.5,1218.3 L1749.0,1217.5 L1750.0,1216.9 L1752.5,1216.2 L1754.0,1215.3 L1754.5,1215.3 L1759.0,1210.9 L1762.0,1205.5 L1764.0,1197.3 L1765.5,1187.5 L1767.0,1170.3 L1768.0,1152.2 L1770.5,1081.9 L1771.5,1066.1 L1772.0,1068.5 L1772.5,1077.3 L1775.5,1158.1 L1777.0,1180.1 L1778.5,1192.9 L1780.5,1203.1 L1781.5,1206.3 L1783.5,1210.3 L1785.0,1212.2 L1786.0,1212.9 L1787.0,1214.3 L1788.5,1215.6 L1790.5,1216.4 L1791.0,1216.2 L1793.0,1217.2 L1795.5,1217.2 L1798.0,1217.9 L1798.5,1217.7 L1801.0,1219.1 L1802.0,1219.1 L1803.5,1218.5 L1805.0,1218.4 L1807.5,1219.5 L1813.5,1219.3 L1816.0,1220.0 L1824.0,1219.8 L1826.5,1220.5 L1829.0,1219.8 L1832.5,1220.1 L1836.0,1219.7 L1839.0,1220.1 L1841.0,1219.9 L1841.5,1219.5 L1843.0,1219.7 L1846.0,1219.6 L1847.0,1219.8 L1847.5,1219.5 L1848.5,1219.5 L1849.5,1219.0 L1852.0,1219.2 L1854.0,1217.8 L1856.0,1218.1 L1859.5,1214.1 L1861.5,1209.4 L1863.5,1202.0 L1864.5,1200.1 L1865.0,1200.1 L1868.5,1211.5 L1870.0,1214.8 L1871.5,1216.6 L1876.5,1218.8 L1879.0,1219.2 L1880.0,1218.7 L1881.5,1218.5 L1883.0,1219.3 L1887.0,1220.3 L1887.5,1220.0 L1890.5,1220.0 L1892.0,1219.7 L1894.5,1220.5 L1896.0,1220.0 L1898.0,1220.3 L1902.0,1219.7 L1903.5,1220.1 L1904.0,1219.9 L1905.0,1220.5 L1907.0,1220.6 L1908.0,1219.9 L1909.5,1219.4 L1910.0,1219.6 L1911.5,1219.0 L1914.0,1219.0 L1917.0,1216.8 L1918.0,1216.4 L1918.5,1216.6 L1919.0,1216.5 L1921.5,1217.9 L1923.0,1218.3 L1925.5,1219.4 L1926.5,1219.4 L1927.5,1219.8 L1930.0,1219.7 L1933.0,1220.9 L1935.0,1220.0 L1936.5,1220.4 L1939.0,1220.0 L1941.0,1220.7 L1943.0,1220.0 L1945.0,1220.7 L1947.0,1220.6 L1949.5,1220.0 L1953.0,1220.9 L1954.0,1220.2 L1956.0,1220.4 L1957.0,1220.1 L1961.5,1220.6 L1963.5,1219.9 L1965.0,1219.8 L1967.5,1220.9 L1970.0,1220.3 L1973.5,1220.7 L1976.5,1220.0 L1980.0,1220.6 L1984.0,1220.5 L1985.0,1220.9 L1987.0,1220.7 L1988.0,1220.1 L1990.5,1220.8 L1991.5,1220.3 L1993.5,1220.8 L1996.0,1220.3 L1997.0,1220.8 L1997.5,1220.4 L1998.5,1220.9 L1999.5,1220.3 L2000.0,1220.5 L2001.5,1220.3 L2004.0,1220.9 L2010.5,1220.0 L2013.0,1220.5 L2014.5,1220.1 L2018.5,1220.2 L2021.0,1220.8 L2022.5,1220.5 L2025.5,1220.8 L2026.0,1220.5 L2030.5,1220.1 L2033.0,1220.7 L2036.5,1220.2 L2039.0,1220.6 L2039.5,1220.3 L2040.5,1220.6 L2043.0,1220.3 L2044.5,1220.8 L2047.5,1219.6 L2048.5,1219.6 L2050.5,1220.5 L2053.5,1220.8 L2054.0,1220.4 L2056.0,1219.9 L2056.5,1220.3 L2059.5,1219.7 L2062.5,1219.8 L2063.5,1220.2 L2065.5,1219.9 L2066.0,1219.5 L2066.5,1219.9 L2068.0,1219.3 L2068.5,1219.4 L2069.0,1218.8 L2071.0,1218.0 L2072.0,1218.0 L2074.5,1216.4 L2076.0,1216.3 L2078.0,1216.9 L2082.0,1219.1 L2084.0,1219.1 L2085.5,1219.8 L2089.0,1220.2 L2090.5,1219.9 L2092.5,1220.3 L2095.0,1219.9 L2096.0,1220.2 L2097.5,1219.8 L2100.5,1220.7 L2103.5,1220.8 L2107.0,1220.1 L2108.0,1220.6 L2109.0,1220.4 L2109.5,1220.8 L2111.5,1220.9 L2114.0,1220.0 L2116.5,1220.4 L2118.0,1220.1 L2120.0,1220.3 L2121.0,1220.0 L2122.0,1220.3 L2122.5,1220.1 L2125.5,1220.4 L2128.0,1220.0 L2131.5,1220.4 L2133.0,1220.0 L2136.0,1220.2 L2138.5,1219.9 L2139.5,1220.3 L2142.0,1219.5 L2143.0,1219.6 L2144.0,1220.4 L2145.0,1220.3 L2145.5,1220.8 L2146.0,1220.3 L2147.0,1220.5 L2148.0,1220.1 L2153.5,1220.2 L2159.0,1217.0 L2161.0,1215.1 L2162.5,1213.1 L2164.0,1212.2 L2165.0,1212.8 L2167.0,1215.4 L2169.0,1217.2 L2171.5,1218.7 L2174.0,1219.2 L2175.0,1219.7 L2180.0,1220.1 L2184.0,1219.7 L2185.0,1220.3 L2187.5,1220.1 L2188.0,1220.5 L2189.0,1220.5 L2192.0,1219.7 L2193.5,1220.5 L2194.5,1220.7 L2196.0,1220.1 L2197.5,1220.8 L2201.5,1220.0 L2206.0,1220.6 L2207.5,1220.3 L2209.0,1220.7 L2211.0,1220.3 L2212.0,1220.5 L2214.5,1219.8 L2216.5,1220.3 L2218.0,1219.6 L2222.0,1219.6 L2226.5,1218.2 L2228.5,1217.1 L2230.0,1215.5 L2232.0,1211.7 L2233.5,1206.2 L2235.5,1191.1" stroke="#e00e0e" stroke-width="9.8"/><path d="M190.5,584.5 L192.5,584.3 L195.0,584.5 L200.0,584.1 L201.0,584.5 L203.5,583.7 L204.5,584.5 L206.5,584.7 L210.0,583.9 L215.5,584.5 L220.5,584.0 L224.5,584.4 L225.5,584.1 L226.5,584.4 L231.0,584.0 L235.0,584.5 L236.5,584.5 L237.0,584.1 L239.0,583.9 L242.0,584.6 L244.5,584.1 L245.5,584.4 L248.5,584.1 L249.5,584.4 L250.5,583.9 L251.5,584.4 L252.5,584.1 L253.0,584.5 L254.0,583.9 L256.5,584.3 L259.5,583.9 L262.0,584.5 L266.0,583.9 L268.0,584.2 L270.5,584.0 L273.0,584.7 L275.0,584.2 L278.0,584.0 L281.0,584.7 L283.0,584.5 L284.0,583.9 L285.5,584.3 L288.0,583.9 L290.0,584.7 L291.5,584.6 L292.5,584.0 L293.0,584.3 L295.0,584.3 L297.0,583.9 L301.0,584.3 L304.0,583.9 L305.0,584.2 L307.5,583.9 L308.5,584.2 L311.0,584.0 L311.5,584.3 L312.5,584.1 L320.0,584.3 L322.5,583.8 L323.5,584.2 L325.0,584.2 L325.5,583.9 L328.0,584.6 L328.5,584.0 L331.0,584.4 L334.5,583.9 L337.0,584.6 L340.0,584.4 L341.0,584.0 L345.0,584.6 L348.5,583.8 L351.0,584.2 L353.5,583.9 L355.5,584.5 L360.0,584.2 L360.5,583.8 L364.0,584.2 L365.0,584.0 L367.5,584.5 L369.0,584.2 L374.5,584.5 L375.0,584.3 L376.0,584.4 L377.0,583.8 L378.0,584.2 L378.5,584.0 L381.0,584.6 L382.5,584.2 L385.0,584.5 L387.5,583.9 L390.5,583.9 L391.0,584.2 L391.5,583.9 L393.0,584.5 L394.0,584.4 L396.5,583.7 L397.0,584.1 L399.0,584.4 L403.5,584.2 L405.5,584.6 L410.0,583.7 L412.5,584.5 L413.5,584.4 L415.5,584.6 L417.0,583.9 L419.5,584.8 L421.0,584.8 L423.5,584.1 L426.0,583.9 L428.5,584.3 L431.0,584.2 L431.5,584.6 L433.0,584.7 L435.0,584.0 L437.5,584.3 L438.0,583.9 L439.5,583.8 L440.5,584.0 L441.5,583.7 L442.0,584.0 L442.5,583.7 L444.0,584.3 L446.5,583.8 L449.5,584.2 L450.5,584.0 L451.5,584.5 L452.5,584.2 L453.0,584.6 L454.0,583.7 L455.5,583.3 L456.5,583.8 L460.0,584.6 L461.5,584.1 L464.0,584.2 L466.5,583.6 L468.5,584.4 L469.5,584.0 L472.0,584.2 L474.0,583.9 L476.5,584.4 L478.5,583.3 L481.0,584.1 L482.5,583.9 L483.0,583.4 L484.0,583.4 L484.5,582.9 L485.5,583.3 L486.5,583.1 L488.5,583.7 L491.0,583.9 L492.0,584.4 L495.0,583.6 L497.0,583.6 L500.0,584.3 L502.5,583.5 L503.5,584.2 L505.0,584.4 L506.0,583.6 L506.5,583.7 L507.5,583.4 L511.0,583.9 L513.5,582.9 L515.5,583.5 L517.5,583.0 L518.5,583.3 L522.0,582.9 L522.5,583.3 L524.0,583.7 L526.0,582.9 L528.5,583.3 L530.5,583.0 L532.0,583.4 L533.5,583.2 L534.5,582.5 L537.0,583.3 L538.5,582.5 L541.0,581.9 L542.5,582.0 L544.0,582.5 L544.5,582.3 L546.0,583.1 L548.5,582.3 L550.0,582.7 L551.0,582.7 L553.5,581.8 L555.5,582.3 L557.0,581.6 L561.0,580.8 L563.0,581.3 L565.0,580.5 L567.0,580.6 L568.0,580.1 L573.0,579.4 L576.5,577.9 L579.0,576.0 L581.5,575.6 L582.5,574.5 L584.0,573.7 L587.0,570.4 L590.0,565.1 L592.0,560.5 L594.0,554.7 L597.0,541.3 L599.5,512.1 L604.0,397.4 L604.5,376.8 L605.5,284.2 L606.5,241.6 L607.0,231.5 L616.0,231.5 L616.5,238.9 L617.0,254.5 L618.0,458.0 L618.5,506.4 L623.0,543.4 L624.5,553.4 L625.5,557.6 L629.0,566.8 L632.5,572.5 L634.0,574.1 L635.5,574.8 L638.5,576.7 L639.5,576.8 L641.5,578.0 L644.0,578.5 L645.5,579.3 L646.5,579.4 L647.0,579.8 L647.5,579.5 L653.5,581.3 L657.0,581.0 L659.5,581.7 L661.0,581.5 L663.5,582.5 L666.0,581.9 L668.0,582.8 L676.0,582.4 L678.5,583.5 L681.0,582.8 L682.5,583.4 L683.5,583.1 L686.0,583.5 L687.5,582.7 L688.5,582.8 L691.0,583.5 L692.0,583.0 L693.5,582.9 L694.5,583.3 L697.5,582.6 L699.0,583.1 L699.5,583.6 L701.5,583.7 L702.0,583.4 L704.0,583.7 L706.5,583.6 L707.5,584.0 L708.0,583.6 L709.5,583.4 L710.0,583.0 L710.5,583.1 L711.0,582.8 L712.5,583.4 L713.0,583.3 L713.5,583.7 L716.0,583.1 L720.0,583.7 L721.0,583.4 L723.0,584.2 L728.0,583.4 L729.0,583.8 L731.0,583.4 L732.5,583.8 L734.5,583.8 L735.0,583.4 L736.0,583.6 L736.5,583.3 L742.5,583.9 L744.0,583.6 L744.5,583.9 L746.0,584.1 L747.5,583.7 L754.0,583.7 L755.0,583.5 L757.5,584.0 L760.0,583.2 L763.5,583.8 L765.0,583.7 L766.0,583.1 L766.5,583.4 L767.0,583.2 L768.5,583.4 L769.0,582.9 L770.5,582.9 L772.0,583.7 L772.5,583.5 L773.5,583.9 L774.5,583.4 L775.0,583.6 L776.0,583.1 L777.0,583.5 L777.5,583.3 L780.5,583.6 L782.0,582.7 L782.5,583.1 L784.5,583.2 L785.5,582.9 L787.0,583.5 L789.5,582.7 L790.5,582.9 L791.5,582.5 L798.0,582.7 L800.5,582.5 L801.0,582.7 L803.5,582.2 L804.5,582.6 L805.5,582.4 L807.0,581.5 L809.0,581.7 L811.0,581.1 L812.0,581.2 L815.0,580.0 L817.5,580.2 L819.5,579.8 L821.5,578.0 L824.0,576.7 L826.5,574.6 L829.5,570.6 L831.0,567.0 L833.0,560.8 L835.0,551.1 L837.0,533.9 L838.5,511.6 L840.5,454.9 L843.5,290.5 L844.0,274.8 L844.5,273.4 L845.5,311.0 L847.0,402.4 L848.5,469.7 L850.0,509.4 L851.5,532.4 L854.0,553.8 L855.5,560.6 L858.5,568.8 L860.0,572.2 L863.0,575.3 L866.0,577.5 L866.5,577.5 L867.5,578.6 L870.5,580.2 L873.0,580.2 L874.5,580.9 L875.0,580.7 L876.0,581.1 L877.0,581.1 L877.5,581.5 L879.0,581.1 L880.0,581.3 L883.0,582.2 L883.5,582.0 L884.0,582.4 L885.5,581.8 L887.0,581.8 L889.0,582.3 L890.5,583.2 L891.0,582.7 L891.5,583.0 L893.0,582.4 L893.5,583.1 L894.5,582.8 L895.5,583.0 L896.0,582.6 L899.0,583.2 L901.5,582.9 L903.0,583.6 L904.0,583.6 L906.0,582.9 L907.5,583.0 L910.0,582.6 L911.0,583.2 L912.5,583.4 L916.0,583.4 L916.5,582.9 L919.5,584.1 L920.5,583.5 L922.5,583.2 L924.5,583.5 L925.0,583.9 L927.5,583.0 L929.5,583.0 L933.0,583.7 L935.0,583.2 L938.5,583.0 L941.5,584.5 L944.0,583.7 L944.5,584.0 L947.0,583.7 L949.0,584.0 L954.0,583.0 L955.5,582.9 L956.5,583.5 L957.5,583.6 L964.5,583.0 L966.5,583.5 L969.0,583.1 L969.5,583.4 L970.5,582.8 L971.5,583.0 L973.5,582.6 L975.0,581.8 L976.0,582.0 L977.0,581.7 L977.5,582.0 L980.0,580.5 L982.0,580.0 L983.5,578.6 L985.5,575.2 L987.5,569.4 L990.0,556.6 L991.0,553.5 L991.5,553.5 L992.5,556.5 L995.0,569.5 L997.0,574.9 L999.0,578.4 L1000.0,579.2 L1001.0,579.4 L1002.0,580.3 L1003.5,581.0 L1004.5,580.9 L1005.5,581.2 L1008.0,580.9 L1010.0,579.7 L1011.5,579.4 L1012.5,578.5 L1016.0,573.6 L1016.5,573.4 L1017.5,574.4 L1020.0,579.3 L1023.0,580.9 L1024.5,580.8 L1027.0,581.9 L1029.0,581.4 L1031.5,582.1 L1033.5,581.7 L1034.0,581.2 L1035.5,580.8 L1037.0,581.0 L1040.5,579.9 L1041.5,580.0 L1043.5,580.8 L1046.5,579.0 L1048.0,578.7 L1050.0,578.8 L1052.5,577.4 L1053.5,577.3 L1055.5,576.0 L1056.5,576.0 L1059.0,574.0 L1061.5,572.8 L1064.0,570.7 L1068.0,569.1 L1069.5,568.1 L1070.5,568.0 L1072.0,568.3 L1074.0,568.3 L1076.5,570.0 L1079.0,570.9 L1080.0,572.1 L1082.0,573.5 L1082.5,573.4 L1085.0,574.9 L1087.0,575.4 L1088.5,576.6 L1090.5,577.6 L1094.5,578.8 L1096.0,579.9 L1096.5,579.7 L1097.5,580.1 L1098.5,579.8 L1099.0,580.2 L1100.5,580.5 L1101.0,581.1 L1103.0,581.2 L1103.5,580.9 L1104.5,581.6 L1106.5,581.2 L1110.5,581.9 L1111.0,581.6 L1113.0,581.6 L1113.5,582.0 L1122.5,583.2 L1124.0,582.6 L1127.5,582.6 L1130.0,584.0 L1133.0,582.9 L1134.0,583.2 L1136.5,582.8 L1137.5,583.4 L1139.0,583.7 L1140.0,583.3 L1142.0,583.8 L1144.0,583.3 L1146.0,583.4 L1146.5,583.1 L1147.0,583.3 L1150.0,583.3 L1151.5,583.9 L1155.0,583.4 L1156.0,583.9 L1156.5,583.7 L1157.5,584.0 L1160.5,583.3 L1162.5,583.7 L1163.0,584.0 L1165.0,584.2 L1165.5,583.8 L1168.5,584.2 L1173.0,583.6 L1173.5,584.0 L1175.5,584.0 L1176.0,583.7 L1177.5,584.1 L1178.0,583.8 L1180.5,584.0 L1181.0,583.7 L1183.0,583.7 L1185.5,584.1 L1187.5,583.5 L1190.0,584.1 L1194.5,583.4 L1196.0,584.3 L1198.0,584.6 L1202.0,583.9 L1203.5,583.8 L1205.5,584.3 L1207.5,584.1 L1208.0,583.7 L1211.5,583.6 L1215.5,584.6 L1218.0,583.7 L1222.5,584.0 L1225.5,583.4 L1230.0,584.2 L1232.5,583.6 L1235.0,584.2 L1236.0,583.9 L1240.5,584.4 L1243.0,583.5 L1245.5,584.7 L1246.5,583.9 L1248.0,583.3 L1250.5,584.4 L1253.0,583.4 L1261.0,583.5 L1263.5,584.1 L1265.5,583.6 L1266.5,584.0 L1270.0,584.0 L1275.0,583.1 L1276.0,583.8 L1279.0,583.4 L1280.5,583.8 L1281.0,583.5 L1283.5,583.6 L1285.5,583.1 L1289.0,583.6 L1290.5,583.6 L1291.5,583.0 L1292.0,583.2 L1293.5,582.7 L1294.0,582.9 L1294.5,582.5 L1296.0,582.5 L1296.5,582.2 L1299.5,583.2 L1301.5,582.6 L1303.0,582.9 L1305.5,581.3 L1309.0,581.5 L1311.5,580.0 L1315.0,579.0 L1319.0,574.6 L1321.0,570.7 L1323.5,562.4 L1325.0,552.8 L1326.0,543.0 L1329.5,485.0 L1330.0,479.5 L1330.5,477.2 L1331.0,478.8 L1331.5,484.3 L1334.5,536.1 L1336.5,555.9 L1338.0,564.4 L1339.5,569.6 L1340.5,571.7 L1344.0,577.1 L1349.0,580.2 L1351.0,581.1 L1351.5,580.9 L1353.0,581.8 L1353.5,581.5 L1355.5,581.8 L1357.5,582.4 L1360.0,582.0 L1367.0,583.1 L1367.5,582.9 L1370.0,583.1 L1370.5,582.7 L1372.0,582.8 L1373.5,583.5 L1376.0,583.1 L1378.5,583.4 L1380.0,583.0 L1380.5,583.3 L1381.0,583.1 L1382.5,583.5 L1383.0,583.2 L1383.5,583.6 L1385.5,583.7 L1389.5,583.0 L1391.0,583.5 L1393.0,583.0 L1395.5,583.5 L1396.5,583.1 L1400.0,583.7 L1403.0,582.8 L1406.0,583.9 L1412.5,582.9 L1415.0,583.2 L1417.5,582.9 L1418.5,583.1 L1419.0,582.6 L1420.0,582.3 L1421.0,582.5 L1422.5,583.4 L1425.0,582.7 L1428.5,583.0 L1432.5,581.9 L1435.0,582.1 L1438.0,581.4 L1439.5,581.6 L1441.0,581.3 L1442.5,580.6 L1443.5,579.7 L1445.0,579.3 L1446.0,579.4 L1447.5,578.6 L1450.5,576.5 L1452.0,574.7 L1455.0,569.4 L1458.0,559.0 L1459.5,550.2 L1461.0,536.4 L1465.0,474.9 L1466.0,466.6 L1466.5,466.9 L1467.5,476.0 L1470.0,518.2 L1471.5,537.9 L1473.0,551.0 L1475.0,561.5 L1476.0,565.4 L1477.5,569.5 L1480.5,574.4 L1485.0,578.3 L1486.5,579.1 L1489.0,579.7 L1491.5,581.4 L1492.5,580.9 L1493.0,581.1 L1494.0,581.0 L1495.0,581.8 L1497.5,581.8 L1499.5,582.5 L1503.0,582.7 L1504.5,583.1 L1506.0,583.1 L1507.0,582.7 L1508.5,582.6 L1511.5,583.2 L1512.5,583.0 L1513.5,583.6 L1516.5,582.9 L1519.5,583.7 L1521.5,583.5 L1523.0,583.9 L1524.5,583.8 L1526.0,583.3 L1528.5,583.7 L1530.0,583.3 L1531.5,583.3 L1532.5,583.9 L1534.0,584.0 L1538.0,583.6 L1543.0,584.2 L1544.5,583.9 L1545.0,584.1 L1545.5,583.7 L1547.0,584.0 L1549.0,583.5 L1551.5,584.2 L1553.0,584.0 L1554.0,583.5 L1555.5,583.6 L1556.5,584.2 L1558.5,583.9 L1560.0,584.2 L1562.5,583.7 L1567.0,584.3 L1570.5,583.7 L1572.5,584.1 L1576.5,583.8 L1577.0,584.1 L1578.5,583.8 L1579.0,584.2 L1580.5,584.2 L1581.5,583.8 L1584.5,584.2 L1586.5,583.5 L1590.5,584.2 L1593.0,583.9 L1593.5,584.2 L1595.5,584.2 L1596.5,583.8 L1598.0,583.8 L1601.5,584.2 L1604.0,583.9 L1605.5,584.5 L1608.0,584.1 L1609.0,584.4 L1611.5,583.8 L1614.5,584.4 L1615.0,584.2 L1616.0,584.3 L1617.0,583.7 L1619.5,584.1 L1620.0,583.8 L1622.0,583.9 L1622.5,584.2 L1623.5,583.7 L1627.0,584.4 L1630.5,584.0 L1632.5,584.3 L1634.0,583.7 L1636.0,584.5 L1641.0,583.9 L1643.5,584.7 L1646.5,584.3 L1648.0,584.6 L1650.5,584.3 L1652.0,584.6 L1653.5,584.1 L1657.0,583.7 L1658.0,583.7 L1658.5,584.1 L1660.5,584.4 L1661.0,583.9 L1663.5,584.3 L1665.0,583.9 L1667.0,584.3 L1669.0,583.9 L1672.0,583.7 L1673.0,584.0 L1673.5,583.7 L1674.0,584.1 L1676.0,584.2 L1676.5,584.0 L1677.0,584.5 L1679.0,584.7 L1680.0,584.2 L1681.5,584.1 L1683.5,584.5 L1687.0,583.8 L1688.0,584.0 L1688.5,584.5 L1690.0,584.3 L1690.5,584.5 L1692.0,583.9 L1698.5,584.0 L1699.5,583.5 L1701.5,583.8 L1703.5,583.5 L1704.5,583.9 L1707.5,584.3 L1712.0,583.6 L1712.5,583.9 L1715.0,583.3 L1716.0,583.9 L1719.0,583.5 L1720.0,583.9 L1721.0,583.6 L1721.5,583.9 L1723.0,583.5 L1726.0,583.3 L1727.5,583.4 L1728.0,583.9 L1729.5,583.9 L1730.5,583.3 L1731.0,583.5 L1733.0,583.2 L1734.0,582.7 L1738.0,583.2 L1740.0,582.4 L1742.5,582.4 L1744.5,581.7 L1749.0,581.4 L1751.0,580.1 L1752.5,579.6 L1755.0,577.5 L1755.5,577.4 L1757.5,575.0 L1759.5,571.2 L1761.5,564.4 L1763.0,556.5 L1764.0,548.6 L1767.5,508.1 L1768.0,504.5 L1768.5,503.1 L1769.0,504.2 L1769.5,507.7 L1772.0,538.6 L1773.5,552.9 L1775.5,564.2 L1777.5,570.3 L1779.0,573.9 L1780.0,575.5 L1785.0,580.0 L1786.5,580.6 L1788.0,580.6 L1790.5,581.8 L1793.0,582.0 L1796.5,583.1 L1798.5,582.9 L1801.0,583.4 L1802.0,582.9 L1806.5,582.9 L1811.0,583.6 L1815.5,583.2 L1817.5,583.9 L1820.0,583.2 L1821.5,583.8 L1822.5,583.6 L1823.5,583.9 L1826.0,583.3 L1827.5,583.8 L1830.0,583.6 L1831.0,583.8 L1831.5,584.4 L1833.5,584.1 L1834.0,583.7 L1837.0,584.0 L1837.5,583.6 L1839.0,583.3 L1840.5,583.4 L1841.0,583.8 L1842.0,583.6 L1842.5,583.8 L1843.5,583.6 L1844.5,583.8 L1845.0,583.5 L1847.0,583.1 L1851.0,583.7 L1854.0,581.9 L1856.0,581.7 L1857.5,581.0 L1859.0,579.5 L1861.5,575.7 L1863.0,574.1 L1863.5,574.1 L1864.5,575.1 L1868.5,581.1 L1869.5,582.1 L1871.5,583.0 L1873.5,582.4 L1877.0,583.4 L1878.5,583.3 L1879.5,582.8 L1880.5,583.2 L1881.5,583.0 L1889.0,583.7 L1889.5,583.4 L1891.5,583.3 L1892.5,583.6 L1894.0,582.9 L1895.0,582.8 L1897.0,583.5 L1898.0,583.1 L1900.0,583.1 L1902.0,582.6 L1903.5,582.9 L1905.5,581.9 L1906.5,580.9 L1907.0,580.9 L1908.5,579.1 L1909.0,578.9 L1911.0,575.6 L1912.0,572.9 L1914.0,570.1 L1915.0,570.8 L1915.5,571.6 L1917.0,575.1 L1919.5,579.1 L1923.0,581.6 L1925.0,582.5 L1927.0,582.6 L1928.0,582.3 L1930.5,583.8 L1932.0,583.4 L1935.5,583.4 L1936.0,583.8 L1937.0,583.7 L1937.5,584.2 L1939.5,584.2 L1941.5,583.6 L1942.0,583.9 L1942.5,583.7 L1946.5,584.0 L1947.0,583.7 L1948.5,583.6 L1949.0,583.9 L1952.5,583.7 L1954.5,584.0 L1955.0,584.3 L1956.5,584.0 L1958.5,584.5 L1961.0,583.6 L1962.5,584.0 L1965.0,583.8 L1968.5,584.4 L1972.0,583.5 L1975.0,583.9 L1976.5,583.7 L1978.5,584.0 L1982.5,583.3 L1985.5,584.4 L1989.5,583.7 L1994.0,584.3 L1995.5,583.8 L1996.0,584.1 L1997.0,584.1 L1999.0,583.7 L2001.5,584.3 L2007.0,583.6 L2010.0,584.3 L2013.0,583.7 L2015.5,584.4 L2016.5,583.9 L2017.5,584.3 L2019.0,584.4 L2021.5,583.6 L2023.5,583.8 L2024.0,584.2 L2026.5,583.6 L2027.5,584.1 L2028.5,583.7 L2029.5,583.8 L2030.0,583.4 L2031.0,583.9 L2032.0,583.5 L2033.0,583.8 L2034.5,583.4 L2037.0,583.8 L2040.5,583.3 L2043.0,583.6 L2045.0,583.0 L2046.0,583.2 L2049.5,582.9 L2051.5,582.1 L2054.0,582.3 L2057.5,580.6 L2058.0,580.9 L2059.5,580.4 L2063.5,577.4 L2065.5,575.3 L2068.5,571.1 L2071.0,569.1 L2071.5,569.0 L2073.0,569.9 L2074.0,571.0 L2078.0,576.9 L2082.0,579.6 L2084.0,580.3 L2084.5,580.2 L2085.5,581.1 L2087.0,581.8 L2088.0,581.4 L2092.0,582.3 L2093.0,582.9 L2095.5,582.8 L2098.5,583.4 L2101.0,582.7 L2104.0,584.1 L2106.5,583.7 L2108.0,584.1 L2108.5,583.8 L2111.0,584.3 L2113.0,583.8 L2117.0,583.6 L2117.5,583.8 L2118.5,583.4 L2119.0,583.7 L2120.0,583.2 L2123.0,583.9 L2125.5,583.2 L2127.5,584.2 L2129.0,584.1 L2130.0,583.7 L2130.5,583.9 L2133.0,583.8 L2134.5,584.2 L2137.0,583.0 L2140.0,583.9 L2142.0,583.5 L2143.5,583.6 L2151.5,581.8 L2153.5,579.9 L2155.0,579.1 L2157.5,575.3 L2159.5,573.6 L2160.5,573.2 L2161.5,573.8 L2164.0,577.7 L2167.0,580.9 L2168.5,582.0 L2171.5,582.4 L2172.0,582.8 L2174.0,583.2 L2175.5,582.4 L2177.0,582.6 L2178.0,583.2 L2178.5,583.1 L2179.5,583.7 L2181.0,583.6 L2182.5,583.9 L2183.0,583.6 L2185.0,583.4 L2186.0,584.1 L2189.0,583.3 L2191.5,584.4 L2194.0,583.3 L2195.5,583.8 L2201.0,583.7 L2203.5,584.0 L2204.5,583.6 L2205.5,583.6 L2206.5,583.1 L2211.0,583.0 L2212.5,582.6 L2213.5,583.3 L2215.0,583.5 L2216.0,582.8 L2220.5,582.8 L2223.5,581.9 L2225.0,582.1 L2226.5,581.7 L2227.0,581.1 L2229.5,580.6 L2232.5,578.6 L2235.5,574.9" stroke="#0505e6" stroke-width="10.6"/></g><path d="M189.7,21.1 V198 M189.7,226.5 V1677.0 M187.29999999999998,1674.6 H2240.2000000000003 M2237.8,1677.0 V21.1 M2240.2000000000003,23.5 H187.29999999999998" stroke="#000" stroke-width="4.8" fill="none"/><path d="M241.7,1674.6 V1656.1 M292.9,1674.6 V1656.1 M344.1,1674.6 V1656.1 M395.3,1674.6 V1656.1 M446.5,1674.6 V1639.1 M497.7,1674.6 V1656.1 M548.9,1674.6 V1656.1 M600.1,1674.6 V1656.1 M651.3,1674.6 V1656.1 M702.5,1674.6 V1639.1 M753.7,1674.6 V1656.1 M804.9,1674.6 V1656.1 M856.1,1674.6 V1656.1 M907.3,1674.6 V1656.1 M958.5,1674.6 V1639.1 M1009.7,1674.6 V1656.1 M1060.9,1674.6 V1656.1 M1112.1,1674.6 V1656.1 M1163.3,1674.6 V1656.1 M1214.5,1674.6 V1639.1 M1265.7,1674.6 V1656.1 M1316.9,1674.6 V1656.1 M1368.1,1674.6 V1656.1 M1419.3,1674.6 V1656.1 M1470.5,1674.6 V1639.1 M1521.7,1674.6 V1656.1 M1572.9,1674.6 V1656.1 M1624.1,1674.6 V1656.1 M1675.3,1674.6 V1656.1 M1726.5,1674.6 V1639.1 M1777.7,1674.6 V1656.1 M1828.9,1674.6 V1656.1 M1880.1,1674.6 V1656.1 M1931.3,1674.6 V1656.1 M1982.5,1674.6 V1639.1 M2033.7,1674.6 V1656.1 M2084.9,1674.6 V1656.1 M2136.1,1674.6 V1656.1 M2187.3,1674.6 V1656.1 M189.7,237.6 H224.7 M189.7,545.3 H224.7 M189.7,853.1 H224.7 M189.7,1160.8 H224.7 M189.7,1468.5 H224.7 M189.7,391.5 H208.7 M189.7,699.2 H208.7 M189.7,1006.9 H208.7 M189.7,1314.7 H208.7 M189.7,1622.4 H208.7 M189.7,115.4 H208.7" stroke="#000" stroke-width="4.8" fill="none"/><path d="M157,212.7 L224.4,185 M157,240.5 L224.4,213.3" stroke="#000" stroke-width="4.6" fill="none"/><ellipse cx="615.1" cy="190.3" rx="21" ry="24" fill="none" stroke="#e01010" stroke-width="9.4"/><rect x="819.0" y="202.3" width="54" height="54" fill="#0272c6"/><rect x="968.1" y="484.0" width="51" height="51" fill="#0272c6"/><ellipse cx="1329.2" cy="434.2" rx="21" ry="24" fill="none" stroke="#e01010" stroke-width="9.4"/><rect x="1445.0" y="403.1" width="51" height="51" fill="#0272c6"/><rect x="1740.9" y="437.8" width="53" height="53" fill="#0272c6"/><rect x="1788.3" y="87.3" width="54" height="54" fill="#0272c6"/><ellipse cx="1808.2" cy="214.4" rx="21" ry="24" fill="none" stroke="#e01010" stroke-width="9.4"/><text x="187.5" y="1784.8" text-anchor="middle" font-family="Liberation Sans, Arial, sans-serif" font-size="96" fill="#000">10</text><text x="443.5" y="1784.8" text-anchor="middle" font-family="Liberation Sans, Arial, sans-serif" font-size="96" fill="#000">20</text><text x="699.5" y="1784.8" text-anchor="middle" font-family="Liberation Sans, Arial, sans-serif" font-size="96" fill="#000">30</text><text x="955.5" y="1784.8" text-anchor="middle" font-family="Liberation Sans, Arial, sans-serif" font-size="96" fill="#000">40</text><text x="1211.5" y="1784.8" text-anchor="middle" font-family="Liberation Sans, Arial, sans-serif" font-size="96" fill="#000">50</text><text x="1467.5" y="1784.8" text-anchor="middle" font-family="Liberation Sans, Arial, sans-serif" font-size="96" fill="#000">60</text><text x="1723.5" y="1784.8" text-anchor="middle" font-family="Liberation Sans, Arial, sans-serif" font-size="96" fill="#000">70</text><text x="1979.5" y="1784.8" text-anchor="middle" font-family="Liberation Sans, Arial, sans-serif" font-size="96" fill="#000">80</text><text x="2235.5" y="1784.8" text-anchor="middle" font-family="Liberation Sans, Arial, sans-serif" font-size="96" fill="#000">90</text><text x="1211.5" y="1913.6" text-anchor="middle" font-family="Liberation Sans, Arial, sans-serif" font-weight="bold" font-size="98" fill="#000">2theta (deg.)</text><text transform="translate(91.3,881.5) rotate(-90) scale(1,1.06)" text-anchor="middle" font-family="Liberation Sans, Arial, sans-serif" font-weight="bold" font-size="101" fill="#000">Intensity (a.u.)</text><text x="1934" y="544" font-family="Liberation Sans, Arial, sans-serif" font-weight="bold" font-size="97" fill="#000">1:4.0</text><text x="1929" y="1195.5" font-family="Liberation Sans, Arial, sans-serif" font-weight="bold" font-size="97" fill="#000">1:1.4</text><text x="1940" y="1432.7" font-family="Liberation Sans, Arial, sans-serif" font-weight="bold" font-size="97" fill="#000">1:1.2</text><text transform="translate(0,131.3) scale(1,1.035)" x="1857.1" y="0" font-family="Liberation Sans, Arial, sans-serif" font-size="93" fill="#000"><tspan font-size="79">β</tspan>-SiC</text><text transform="translate(0,238) scale(1,1.04)" x="1843" y="0" font-family="Liberation Sans, Arial, sans-serif" font-size="93.5" fill="#000">Carbon</text><text transform="translate(861.6,123.2) rotate(-90)" text-anchor="middle" font-family="Liberation Sans, Arial, sans-serif" font-size="52" fill="#000" stroke="#000" stroke-width="1.5">(1 1 1)</text><text transform="translate(1002.3,405.7) rotate(-90)" text-anchor="middle" font-family="Liberation Sans, Arial, sans-serif" font-size="52" fill="#000" stroke="#000" stroke-width="1.5">(2 0 0)</text><text transform="translate(1479.2,326.4) rotate(-90)" text-anchor="middle" font-family="Liberation Sans, Arial, sans-serif" font-size="52" fill="#000" stroke="#000" stroke-width="1.5">(2 2 0)</text><text transform="translate(1781.1,360.7) rotate(-90)" text-anchor="middle" font-family="Liberation Sans, Arial, sans-serif" font-size="52" fill="#000" stroke="#000" stroke-width="1.5">(3 1 1)</text></svg></body></html>
